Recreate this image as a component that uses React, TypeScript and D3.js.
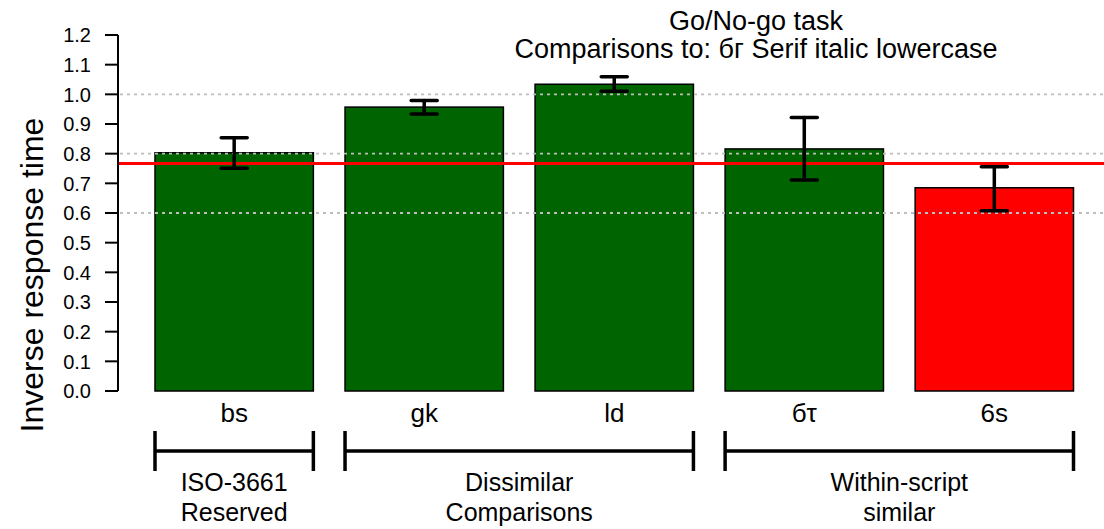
import React from "react";
import * as d3 from "d3";

// data
const categories = ["bs", "gk", "ld", "бτ", "6s"];
const means = [0.803, 0.957, 1.034, 0.816, 0.685];
const errLow = [0.751, 0.934, 1.01, 0.711, 0.608];
const errHigh = [0.854, 0.979, 1.059, 0.922, 0.756];
const barColors = ["#006400", "#006400", "#006400", "#006400", "#ff0000"];
const yTicks = [0, 0.1, 0.2, 0.3, 0.4, 0.5, 0.6, 0.7, 0.8, 0.9, 1.0, 1.1, 1.2];
const gridValues = [0.6, 0.8, 1.0];
const referenceValue = 0.767;
const groups = [
  { from: 0, to: 0, lines: ["ISO-3661", "Reserved"] },
  { from: 1, to: 2, lines: ["Dissimilar", "Comparisons"] },
  { from: 3, to: 4, lines: ["Within-script", "similar"] },
];
const titleLines = ["Go/No-go task", "Comparisons to: бг Serif italic lowercase"];

const W = 1104;
const H = 529;
const font = "'Liberation Sans', Arial, Helvetica, sans-serif";

export default function App() {
  const x = d3.scaleBand()
    .domain(categories)
    .range([155, 1073.5])
    .paddingInner(0.2 / 1.2)
    .paddingOuter(0);

  const y = d3.scaleLinear().domain([0, 1.2]).range([391, 35]);
  const axisX = 118;
  const capHalf = 13;

  return (
    <svg width={W} height={H} style={{ position: "absolute", left: 0, top: 0, background: "#fff" }}
      fontFamily={font}>
      {/* bars */}
      {categories.map((c, i) => (
        <rect key={c} x={x(c)} y={y(means[i])} width={x.bandwidth()} height={y(0) - y(means[i])}
          fill={barColors[i]} stroke="#000" strokeWidth={1.5} />
      ))}

      {/* grid lines, drawn over the bars */}
      {gridValues.map(v => (
        <line key={v} x1={axisX + 2} x2={W} y1={y(v)} y2={y(v)}
          stroke="#bdbdbd" strokeWidth={1.8} strokeDasharray="3,4" />
      ))}

      {/* reference line */}
      <line x1={axisX} x2={W} y1={y(referenceValue)} y2={y(referenceValue)} stroke="#ff0000" strokeWidth={3} />

      {/* error bars */}
      {categories.map((c, i) => {
        const cx = (x(c) as number) + x.bandwidth() / 2;
        return (
          <g key={c} stroke="#000" strokeWidth={3.5} strokeLinecap="round">
            <line x1={cx} x2={cx} y1={y(errLow[i])} y2={y(errHigh[i])} />
            <line x1={cx - capHalf} x2={cx + capHalf} y1={y(errLow[i])} y2={y(errLow[i])} />
            <line x1={cx - capHalf} x2={cx + capHalf} y1={y(errHigh[i])} y2={y(errHigh[i])} />
          </g>
        );
      })}

      {/* y axis */}
      <g>
        <line x1={axisX} x2={axisX} y1={y(0)} y2={y(1.2)} stroke="#000" strokeWidth={2} />
        {yTicks.map(t => (
          <g key={t}>
            <line x1={axisX - 13} x2={axisX} y1={y(t)} y2={y(t)} stroke="#000" strokeWidth={2} />
            <text x={91} y={y(t)} dy="0.36em" textAnchor="end" fontSize={20}>{t.toFixed(1)}</text>
          </g>
        ))}
        <text transform={`translate(43,275) rotate(-90)`} textAnchor="middle" fontSize={32}>
          Inverse response time
        </text>
      </g>

      {/* category labels */}
      {categories.map(c => (
        <text key={c} x={(x(c) as number) + x.bandwidth() / 2} y={421.5} textAnchor="middle" fontSize={26}>{c}</text>
      ))}

      {/* group brackets */}
      {groups.map((g, i) => {
        const x1 = x(categories[g.from]) as number;
        const x2 = (x(categories[g.to]) as number) + x.bandwidth();
        const mid = (x1 + x2) / 2;
        return (
          <g key={i}>
            <g stroke="#000" strokeWidth={3.5}>
              <line x1={x1} x2={x2} y1={451} y2={451} />
              <line x1={x1} x2={x1} y1={431} y2={471} />
              <line x1={x2} x2={x2} y1={431} y2={471} />
            </g>
            {g.lines.map((l, j) => (
              <text key={j} x={mid} y={491 + j * 30} textAnchor="middle" fontSize={25}>{l}</text>
            ))}
          </g>
        );
      })}

      {/* title */}
      {titleLines.map((l, j) => (
        <text key={j} x={756} y={30 + j * 27.5} textAnchor="middle" fontSize={27}>{l}</text>
      ))}
    </svg>
  );
}
